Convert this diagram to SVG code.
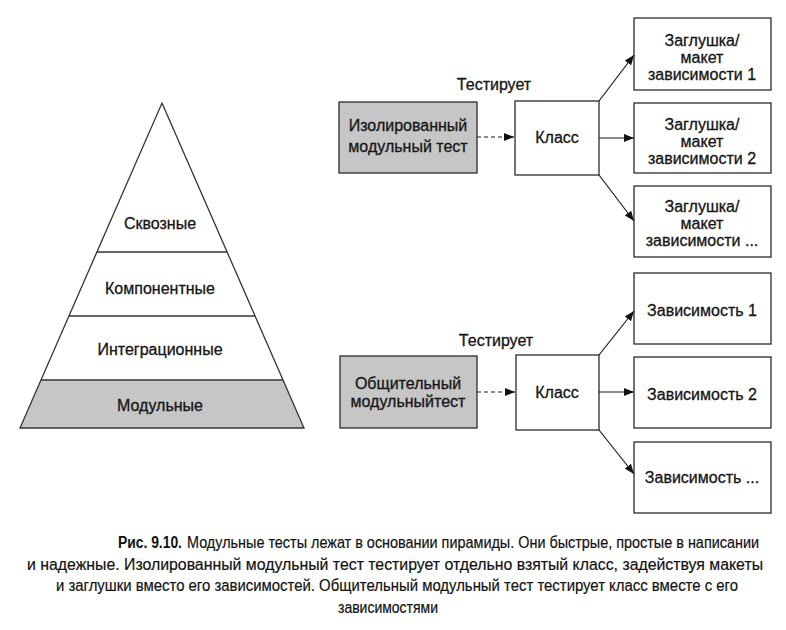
<svg xmlns="http://www.w3.org/2000/svg" width="786" height="630" viewBox="0 0 786 630">
<style>
.t{font-family:"Liberation Sans",Arial,sans-serif;font-size:16px;fill:#151515;stroke:#151515;stroke-width:0.3;text-anchor:middle}
.box{fill:#ffffff;stroke:#2a2a2a;stroke-width:1.3}
.grey{fill:#c6c6c6;stroke:#2a2a2a;stroke-width:1.3}
.edge{stroke:#1a1a1a;stroke-width:1.2;fill:none}
.dash{stroke-dasharray:4 3}
.cap{font-family:"Liberation Sans",Arial,sans-serif;font-size:17px;fill:#111;stroke:#111;stroke-width:0.2}
.capb{font-family:"Liberation Sans",Arial,sans-serif;font-size:17px;font-weight:bold;fill:#111}
</style>
<defs>
<marker id="ah" viewBox="0 0 10 8" refX="10" refY="4" markerWidth="10" markerHeight="8" markerUnits="userSpaceOnUse" orient="auto">
<path d="M0,0 L10,4 L0,8 Z" fill="#111"/>
</marker>
</defs>
<rect width="786" height="630" fill="#ffffff"/>

<g id="pyramid">
<polygon points="41,380 283,380 304,428 20,428" fill="#c6c6c6"/>
<polygon points="162,103 304,428 20,428" fill="none" stroke="#333" stroke-width="1.3"/>
<line x1="97" y1="252" x2="227" y2="252" stroke="#333" stroke-width="1.3"/>
<line x1="69" y1="316" x2="255" y2="316" stroke="#333" stroke-width="1.3"/>
<line x1="41" y1="380" x2="283" y2="380" stroke="#333" stroke-width="1.3"/>
<text class="t" x="160" y="229">Сквозные</text>
<text class="t" x="160" y="294">Компонентные</text>
<text class="t" x="160" y="355">Интеграционные</text>
<text class="t" x="160" y="411">Модульные</text>
</g>

<g id="isolated-test">
<rect class="grey" x="339" y="102" width="138" height="71"/>
<text class="t" x="408" y="131">Изолированный</text>
<text class="t" x="408" y="152">модульный тест</text>
</g>
<g id="label-tests-1"><text class="t" x="494" y="90">Тестирует</text></g>
<g id="class-1">
<rect class="box" x="515" y="101" width="84" height="74"/>
<text class="t" x="557" y="143">Класс</text>
</g>
<g id="stub-1">
<rect class="box" x="634" y="18" width="137" height="72"/>
<text class="t" x="702" y="46">Заглушка/</text>
<text class="t" x="702" y="63">макет</text>
<text class="t" x="702" y="80">зависимости 1</text>
</g>
<g id="stub-2">
<rect class="box" x="634" y="103" width="137" height="70"/>
<text class="t" x="702" y="130">Заглушка/</text>
<text class="t" x="702" y="147">макет</text>
<text class="t" x="702" y="164">зависимости 2</text>
</g>
<g id="stub-3">
<rect class="box" x="634" y="186" width="137" height="71"/>
<text class="t" x="702" y="212">Заглушка/</text>
<text class="t" x="702" y="229">макет</text>
<text class="t" x="702" y="246">зависимости ...</text>
</g>

<g id="sociable-test">
<rect class="grey" x="340" y="356" width="137" height="72"/>
<text class="t" x="408" y="389">Общительный</text>
<text class="t" x="408" y="407">модульныйтест</text>
</g>
<g id="label-tests-2"><text class="t" x="496" y="346">Тестирует</text></g>
<g id="class-2">
<rect class="box" x="516" y="355" width="83" height="75"/>
<text class="t" x="557" y="398">Класс</text>
</g>
<g id="dep-1">
<rect class="box" x="634" y="273" width="137" height="71"/>
<text class="t" x="702" y="316">Зависимость 1</text>
</g>
<g id="dep-2">
<rect class="box" x="634" y="357" width="137" height="71"/>
<text class="t" x="702" y="400">Зависимость 2</text>
</g>
<g id="dep-3">
<rect class="box" x="634" y="442" width="137" height="71"/>
<text class="t" x="702" y="483">Зависимость ...</text>
</g>

<g id="connectors">
<line class="edge dash" x1="477" y1="137" x2="514" y2="137" marker-end="url(#ah)"/>
<line class="edge" x1="599" y1="101" x2="634" y2="55" marker-end="url(#ah)"/>
<line class="edge" x1="599" y1="138" x2="634" y2="138" marker-end="url(#ah)"/>
<line class="edge" x1="599" y1="175" x2="634" y2="221" marker-end="url(#ah)"/>
<line class="edge dash" x1="477" y1="392" x2="515" y2="392" marker-end="url(#ah)"/>
<line class="edge" x1="599" y1="355" x2="634" y2="311" marker-end="url(#ah)"/>
<line class="edge" x1="599" y1="392" x2="634" y2="392" marker-end="url(#ah)"/>
<line class="edge" x1="599" y1="430" x2="634" y2="474" marker-end="url(#ah)"/>
</g>

<g id="caption" transform="scale(0.88,1)">
<text class="capb" x="134.1" y="548" textLength="72.7" lengthAdjust="spacingAndGlyphs">Рис. 9.10.</text>
<text class="cap" x="212.5" y="548" textLength="650" lengthAdjust="spacingAndGlyphs">Модульные тесты лежат в основании пирамиды. Они быстрые, простые в написании</text>
<text class="cap" x="30.7" y="570" textLength="836.4" lengthAdjust="spacingAndGlyphs">и надежные. Изолированный модульный тест тестирует отдельно взятый класс, задействуя макеты</text>
<text class="cap" x="63.6" y="591" textLength="775" lengthAdjust="spacingAndGlyphs">и заглушки вместо его зависимостей. Общительный модульный тест тестирует класс вместе с его</text>
<text class="cap" x="384.1" y="613" textLength="113.6" lengthAdjust="spacingAndGlyphs">зависимостями</text>
</g>
</svg>
